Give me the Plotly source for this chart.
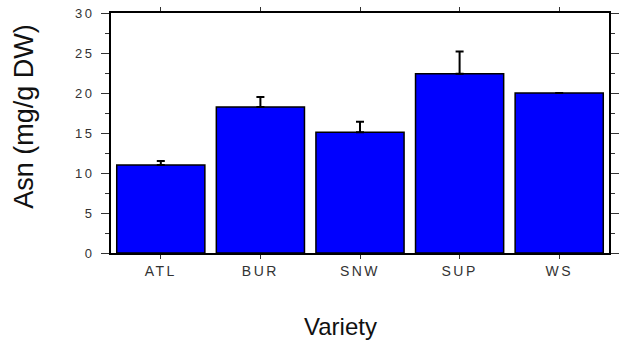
import plotly.graph_objects as go

# Asparagine content by potato variety
varieties = ["ATL", "BUR", "SNW", "SUP", "WS"]
asn_mean = [11.0, 18.25, 15.1, 22.4, 20.0]
asn_err = [0.5, 1.25, 1.3, 2.8, 0.0]
y_ticks = [0, 5, 10, 15, 20, 25, 30]

fig = go.Figure(
    go.Bar(
        x=varieties,
        y=asn_mean,
        marker=dict(color="#0000FF", line=dict(color="black", width=1.5)),
        error_y=dict(
            type="data",
            symmetric=False,
            array=asn_err,
            arrayminus=[0] * len(asn_err),
            color="black",
            thickness=2,
            width=4,
        ),
    )
)

fig.update_layout(
    width=622,
    height=343,
    margin=dict(l=111, r=3, t=13, b=90),
    plot_bgcolor="white",
    paper_bgcolor="white",
    bargap=0.115,
    showlegend=False,
    font=dict(family="Liberation Sans, Arial, sans-serif", color="#222"),
)

fig.update_xaxes(
    range=[-0.5, 4.5],
    showline=True,
    linecolor="black",
    linewidth=2,
    mirror="allticks",
    ticks="outside",
    ticklen=4,
    tickwidth=1,
    tickcolor="#333",
    tickfont=dict(size=14, color="#333"),
    ticklabelstandoff=0,
    showgrid=False,
)

fig.update_yaxes(
    range=[0, 30],
    tickvals=y_ticks,
    showline=True,
    linecolor="black",
    linewidth=2,
    mirror="allticks",
    ticks="outside",
    ticklen=8,
    tickwidth=1,
    tickcolor="#333",
    tickfont=dict(size=13, color="#333"),
    ticklabelstandoff=4,
    minor=dict(dtick=2.5, ticks="outside", ticklen=4, tickcolor="#333", showgrid=False),
    showgrid=False,
    zeroline=False,
)

# Axis titles
fig.add_annotation(
    text="Asn (mg/g DW)",
    xref="paper", yref="paper",
    x=(22 - 111) / 508, y=(253 - 116) / 240,
    xanchor="center", yanchor="middle",
    textangle=-90,
    showarrow=False,
    font=dict(size=27, color="#111"),
)
fig.add_annotation(
    text="Variety",
    xref="paper", yref="paper",
    x=(345 - 111) / 508, y=(253 - 326) / 240,
    xanchor="center", yanchor="middle",
    showarrow=False,
    font=dict(size=24, color="#111"),
)

# Spaced-out tick lettering
spacing_js = """
var gd = document.getElementsByClassName('plotly-graph-div')[0];
function spaceTicks() {
  gd.querySelectorAll('.xtick text').forEach(function(t){ t.style.letterSpacing = '2.5px'; });
  gd.querySelectorAll('.ytick text').forEach(function(t){ t.style.letterSpacing = '2.5px'; });
}
spaceTicks();
gd.on('plotly_afterplot', spaceTicks);
"""

fig.write_html("out.html", post_script=spacing_js)
